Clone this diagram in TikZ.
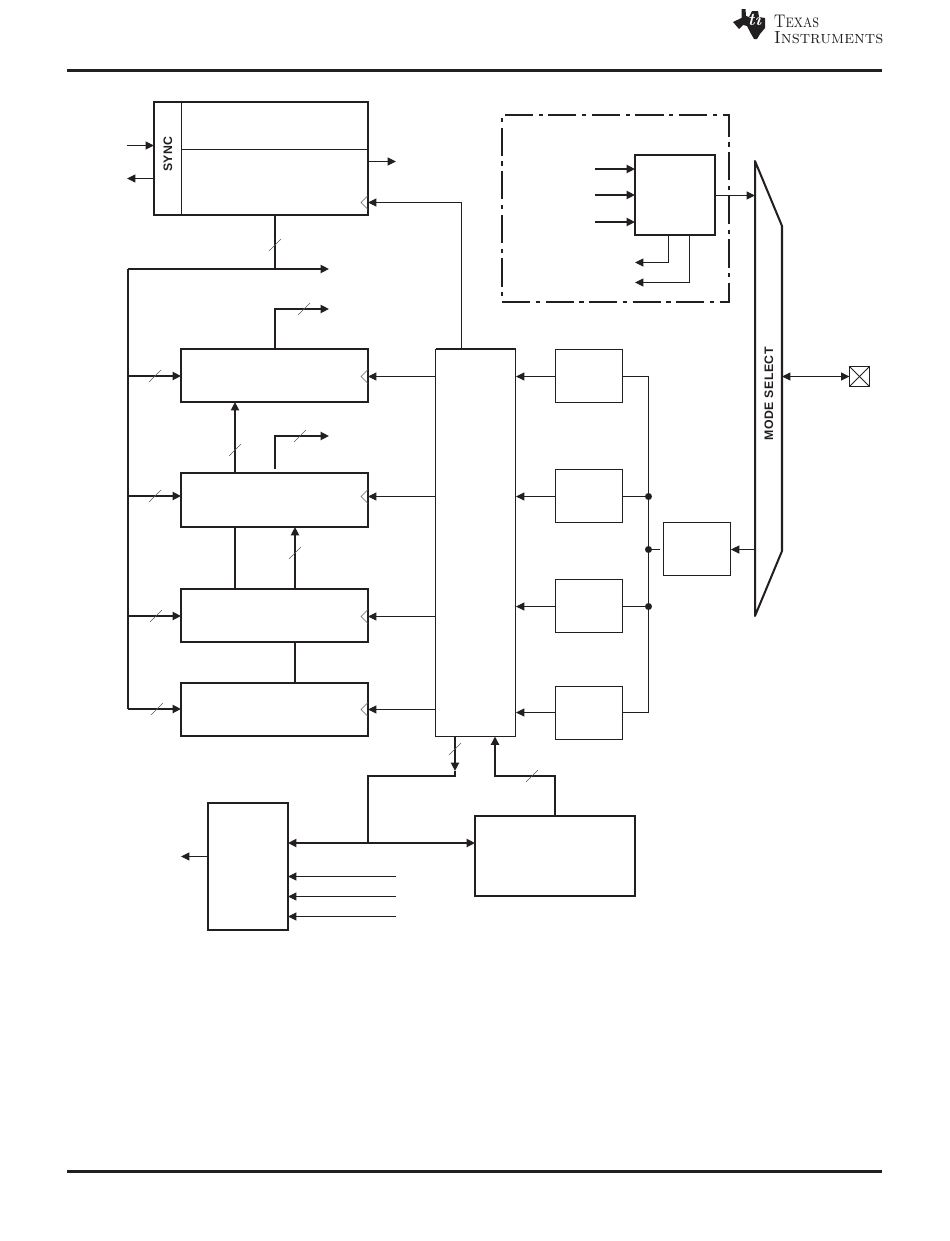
\documentclass[tikz,border=0pt]{standalone}
\usepackage{fontspec}
\usepackage{xcolor}
\usetikzlibrary{shapes,arrows.meta,positioning}
\newfontfamily\labelfont[LetterSpace=4]{Liberation Sans}
\definecolor{inkdark}{HTML}{231F20}

\begin{document}
\begin{tikzpicture}[
        x=0.02cm, y=-0.02cm, color=inkdark,
        box/.style={rectangle, draw, outer sep=0pt, inner sep=0pt},
        reg/.style={box, line width=1.15pt, minimum width=3.74cm, minimum height=1.06cm},
        clk/.style={box, line width=0.55pt, minimum width=1.34cm, minimum height=1.06cm},
        wire/.style={line width=0.55pt},
        wiretip/.style={wire, -{Triangle[length=4.8pt,width=4.6pt]}},
        bus/.style={line width=1.15pt},
        bustip/.style={bus, -{Triangle[length=4.8pt,width=4.6pt]}},
        bothtips/.style={{Triangle[length=4.8pt,width=4.6pt]}-{Triangle[length=4.8pt,width=4.6pt]}},
        slashmark/.style={line width=0.3pt, gray!70!black},
        clockmark/.style={line width=0.3pt, gray!70!black},
        junction/.style={circle, fill, inner sep=0pt, minimum size=0.14cm},
        rotlabel/.style={rotate=90, font=\labelfont\fontsize{7}{8}\selectfont\bfseries, inner sep=0pt}
    ]
        \useasboundingbox (0,0) rectangle (950,1241);

        \coordinate (ruleAl) at (67,70.5);
        \coordinate (ruleAr) at (882,70.5);
        \coordinate (ruleBl) at (67,1171.5);
        \coordinate (ruleBr) at (882,1171.5);
        \draw[line width=1.2pt] (ruleAl) -- (ruleAr);
        \draw[line width=1.2pt] (ruleBl) -- (ruleBr);

        \fill (741.5,9) -- (745.5,9) -- (746,16) -- (749,17) -- (752,11) -- (758,11) -- (759,17) -- (765,18) -- (765,28)
            -- (760,34) -- (757,39) -- (754,39) -- (750,32) -- (747,26) -- (743,25) -- (739,29) -- (733,22) -- (741.5,18) -- cycle;
        \node[text=white, font=\fontsize{10}{10}\selectfont\itshape\bfseries, inner sep=0pt] (tilogo) at (754.5,20) {ti};
        \node[anchor=base west, inner sep=0pt, xscale=0.82, font=\fontsize{10.4}{11}\selectfont] (tiname) at (773.5,27.5) {\textsc{Texas}};
        \node[anchor=base west, inner sep=0pt, font=\fontsize{10}{11}\selectfont] (tinameB) at (773.5,43) {\textsc{Instruments}};

        \node[box, line width=1.15pt, minimum width=4.28cm, minimum height=2.26cm] (sync) at (261,158.5) {};
        \node[reg] (R1) at (274.5,375.5) {};
        \node[reg, minimum height=1.08cm, below=1.42cm of R1] (R2) {};
        \node[reg, below=1.24cm of R2] (R3) {};
        \node[reg, below=0.82cm of R3] (R4) {};

        \node[box, line width=0.55pt, minimum width=1.6cm, minimum height=7.75cm, right=1.36cm of R1.north east, anchor=north west] (centre) {};
        \node[clk, right=0.8cm of centre.north east, anchor=north west, yshift=-0.01cm] (clkA) {};
        \node[clk, below=1.34cm of clkA] (clkB) {};
        \node[clk, below=1.14cm of clkB] (clkC) {};
        \node[clk, below=1.08cm of clkC] (clkD) {};
        \node[clk, right=0.82cm of clkB.south east, anchor=north west] (divider) {};
        \draw[bus] (centre.north west) -- (centre.north east);

        \node[box, line width=1.15pt, dash pattern=on 16pt off 3.2pt on 2.4pt off 3.2pt, minimum width=4.54cm, minimum height=3.74cm] (group) at (615.5,208.5) {};
        \node[box, line width=1.15pt, minimum size=1.6cm] (inner) at (675,195) {};

        \node[minimum width=0.54cm, minimum height=9.1cm, inner sep=0pt, outer sep=0pt] (mux) at (768.5,388.5) {};
        \coordinate (muxtop) at (782,226);
        \coordinate (muxbot) at (782,551);
        \draw[bus, line join=round] (mux.north west) -- (muxtop) -- (muxbot) -- (mux.south west) -- cycle;
        \node[rotlabel] (muxlabel) at (769,394) {MODE SELECT};
        \node[box, line width=0.55pt, minimum size=0.4cm] (pad) at (859.5,376.5) {};
        \draw[wire] (pad.north west) -- (pad.south east);
        \draw[wire] (pad.north east) -- (pad.south west);

        \node[box, line width=1.15pt, minimum width=1.6cm, minimum height=2.54cm] (port) at (248,866.5) {};
        \node[box, line width=1.15pt, minimum width=3.2cm, minimum height=1.6cm] (ctrl) at (555,856) {};

        \coordinate (syncdiv) at (181.5,149.5);
        \node[rotlabel] (synclabel) at (168,154) {SYNC};
        \draw[wire] (syncdiv |- sync.north) -- (syncdiv |- sync.south);
        \draw[wire] (syncdiv) -- (syncdiv -| sync.east);
        \coordinate (syncin) at (127,145.5);
        \coordinate (syncout) at (127,178.5);
        \coordinate (syncdata) at (396,161.5);
        \draw[wiretip] (syncin) -- (syncin -| sync.west);
        \draw[wiretip] (syncout -| sync.west) -- (syncout);
        \draw[wiretip] (syncdata -| sync.east) -- (syncdata);

        \coordinate (colA) at (235,0);
        \coordinate (colB) at (275,0);
        \coordinate (colC) at (295,0);
        \coordinate (rail) at (128,269);
        \coordinate (railend) at (329,269);
        \coordinate (outA) at (329,309);
        \coordinate (outB) at (329,436);
        \coordinate (tapB) at (275,469);
        \coordinate (tapR1) at (128,376);
        \coordinate (tapR2) at (128,496);
        \coordinate (tapR3) at (128,616);
        \coordinate (tapR4) at (128,709);
        \draw[bus] (colB |- sync.south) -- (colB |- rail);
        \draw[bustip] (rail) -- (railend);
        \draw[bus] (rail) -- (tapR4);
        \draw[bustip] (tapR1) -- (tapR1 -| R1.west);
        \draw[bustip] (tapR2) -- (tapR2 -| R2.west);
        \draw[bustip] (tapR3) -- (tapR3 -| R3.west);
        \draw[bustip] (tapR4) -- (tapR4 -| R4.west);
        \draw[bustip] (colB |- R1.north) |- (outA);
        \draw[bustip] (tapB) |- (outB);
        \draw[bustip] (colA |- R2.north) -- (colA |- R1.south);
        \draw[bus] (colA |- R3.north) -- (colA |- R2.south);
        \draw[bustip] (colC |- R3.north) -- (colC |- R2.south);
        \draw[bus] (colC |- R4.north) -- (colC |- R3.south);

        \coordinate (synckA) at (368,202.5);
        \coordinate (synckB) at (461.5,202.5);
        \coordinate (ckA) at (368,376.5);
        \coordinate (ckB) at (368,496.5);
        \coordinate (ckC) at (368,616.5);
        \coordinate (ckD) at (368,709.5);
        \draw[wiretip] (synckB |- centre.north) -- (synckB) -- (synckA);
        \draw[wiretip] (ckA -| centre.west) -- (ckA);
        \draw[wiretip] (ckB -| centre.west) -- (ckB);
        \draw[wiretip] (ckC -| centre.west) -- (ckC);
        \draw[wiretip] (ckD -| centre.west) -- (ckD);
        \foreach \k in {synckA, ckA, ckB, ckC, ckD}
            \draw[clockmark] (\k) ++(0,-7) -- ++(-7,7) -- ++(7,7);

        \coordinate (clkAy) at (555,376.5);
        \coordinate (clkBy) at (555,496.5);
        \coordinate (clkCy) at (555,606.5);
        \coordinate (clkDy) at (555,712.5);
        \draw[wiretip] (clkAy) -- (clkAy -| centre.east);
        \draw[wiretip] (clkBy) -- (clkBy -| centre.east);
        \draw[wiretip] (clkCy) -- (clkCy -| centre.east);
        \draw[wiretip] (clkDy) -- (clkDy -| centre.east);

        \coordinate (clkbus) at (648.5,0);
        \coordinate (divy) at (660,549.5);
        \node[junction] (jB) at (clkbus |- clkBy) {};
        \node[junction] (jC) at (clkbus |- clkCy) {};
        \node[junction] (jD) at (clkbus |- divy) {};
        \draw[wire] (clkAy -| clkA.east) -- (clkAy -| clkbus) -- (clkDy -| clkbus) -- (clkDy -| clkD.east);
        \draw[wire] (clkBy -| clkB.east) -- (jB);
        \draw[wire] (clkCy -| clkC.east) -- (jC);
        \draw[wire] (jD) -- (divy);
        \draw[wiretip] (divy -| mux.west) -- (divy -| divider.east);
        \draw[wire, bothtips] (pad.west -| mux.east) -- (pad.west);

        \coordinate (innerA) at (595,169);
        \coordinate (innerB) at (595,195);
        \coordinate (innerC) at (595,222);
        \coordinate (innerH) at (715,195.5);
        \coordinate (innerD) at (668.5,262.5);
        \coordinate (innerE) at (689.5,282.5);
        \coordinate (innerF) at (635,262.5);
        \coordinate (innerG) at (635,282.5);
        \draw[bustip] (innerA) -- (innerA -| inner.west);
        \draw[bustip] (innerB) -- (innerB -| inner.west);
        \draw[bustip] (innerC) -- (innerC -| inner.west);
        \draw[wiretip] (innerH) -- (innerH -| mux.west);
        \draw[wiretip] (innerD |- inner.south) -- (innerD) -- (innerF);
        \draw[wiretip] (innerE |- inner.south) -- (innerE) -- (innerG);

        \coordinate (busmain) at (368,843);
        \coordinate (busup) at (455,776);
        \coordinate (busstop) at (455,771);
        \coordinate (backup) at (495,776);
        \draw[bus, bothtips] (busmain -| port.east) -- (busmain -| ctrl.west);
        \draw[bus] (busmain) |- (busup) -- (busstop);
        \draw[bustip] (centre.south -| busstop) -- (busstop);
        \draw[bustip] (ctrl.north) |- (backup) -- (backup |- centre.south);

        \coordinate (portout) at (181,856.5);
        \draw[wiretip] (portout -| port.west) -- (portout);
        \foreach \y in {876.5, 896.5, 916.5} {
            \coordinate (portin) at (396,\y);
            \draw[wiretip] (portin) -- (portin -| port.east);
        }

        \foreach \x/\y in {275/245, 304/309, 155/376, 235/450, 300/436, 155/496, 295/553, 156/616, 157/709, 455/749, 532/776}
            \draw[slashmark] (\x-6,\y+6) -- (\x+6,\y-6);
    \end{tikzpicture}
\end{document}
